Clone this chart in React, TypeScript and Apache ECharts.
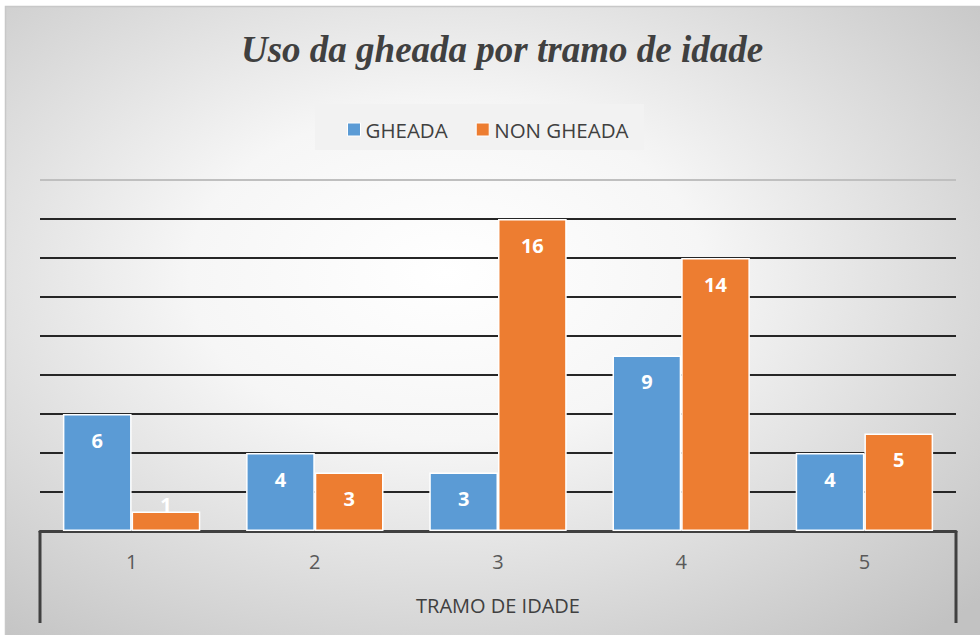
import React, { useEffect, useRef } from "react";
import * as echarts from "echarts";

const categories = ["1", "2", "3", "4", "5"];
const gheada = [6, 4, 3, 9, 4];
const nonGheada = [1, 3, 16, 14, 5];
const seriesNames = ["GHEADA", "NON GHEADA"];
const yMin = 0;
const yMax = 18;
const yInterval = 2;

const GRID = { left: 40, right: 24, top: 180, bottom: 104 };
const W = 980;
const H = 635;
const SANS = "'Open Sans', 'Noto Sans', sans-serif";

export default function App() {
  const ref = useRef<HTMLDivElement>(null);
  useEffect(() => {
    if (!ref.current) return;
    const chart = echarts.init(ref.current, undefined, { renderer: "svg" });
    const axisY = H - GRID.bottom;
    const nLines = (yMax - yMin) / yInterval + 1;
    const splitColors = Array.from({ length: nLines }, (_, i) =>
      i === nLines - 1 ? "#bfbfbf" : "#262626"
    );
    const labelStyle = {
      show: true,
      position: "insideTop",
      distance: 16,
      color: "#ffffff",
      fontWeight: "bold",
      fontSize: 20,
      fontFamily: SANS,
    };
    const mkData = (arr: number[]) =>
      arr.map((v) =>
        v <= 1
          ? { value: v, label: { position: "insideTop", distance: -17 } }
          : v
      );
    chart.setOption({
      animation: false,
      backgroundColor: "transparent",
      graphic: [
        {
          type: "rect",
          z: -10,
          shape: { x: 5.5, y: 6.5, width: W, height: H },
          style: {
            fill: {
              type: "radial",
              x: 0.45,
              y: 0.42,
              r: 0.75,
              colorStops: [
                { offset: 0, color: "#ffffff" },
                { offset: 0.35, color: "#f6f6f6" },
                { offset: 1, color: "#c2c2c2" },
              ],
            },
            stroke: "#c8c8c8",
            lineWidth: 1.5,
          },
          silent: true,
        },
        {
          type: "rect",
          shape: { x: 315, y: 104, width: 329, height: 46 },
          style: { fill: "#f2f2f2" },
          z: -5,
          silent: true,
        },
        {
          type: "line",
          shape: { x1: GRID.left, y1: axisY, x2: GRID.left, y2: 623 },
          style: { stroke: "#404040", lineWidth: 3 },
          z: 10,
        },
        {
          type: "line",
          shape: { x1: W - GRID.right, y1: axisY, x2: W - GRID.right, y2: 623 },
          style: { stroke: "#404040", lineWidth: 3 },
          z: 10,
        },
      ],
      title: {
        text: "Uso da gheada por tramo de idade",
        left: 236,
        top: 26,
        textStyle: {
          fontFamily: "'Liberation Serif', 'DejaVu Serif', serif",
          fontStyle: "italic",
          fontWeight: "bold",
          fontSize: 37,
          color: "#404040",
        },
      },
      legend: {
        data: seriesNames,
        top: 114,
        left: 342,
        icon: "rect",
        itemWidth: 13,
        itemHeight: 13,
        itemGap: 28,
        itemStyle: { borderColor: "#ffffff", borderWidth: 1 },
        textStyle: { fontFamily: SANS, fontSize: 20.5, color: "#404040" },
      },
      grid: { ...GRID, containLabel: false },
      xAxis: {
        type: "category",
        data: categories,
        name: "TRAMO DE IDADE",
        nameLocation: "middle",
        nameGap: 64,
        nameTextStyle: { fontFamily: SANS, fontSize: 20, color: "#404040" },
        axisLine: { show: true, lineStyle: { color: "#404040", width: 3 } },
        axisTick: { show: false },
        axisLabel: {
          margin: 20,
          fontFamily: SANS,
          fontSize: 20,
          color: "#595959",
        },
      },
      yAxis: {
        type: "value",
        min: yMin,
        max: yMax,
        interval: yInterval,
        axisLabel: { show: false },
        axisLine: { show: false },
        axisTick: { show: false },
        splitLine: { lineStyle: { color: splitColors, width: 2 } },
      },
      series: [
        {
          name: seriesNames[0],
          type: "bar",
          data: mkData(gheada),
          barGap: "0%",
          barCategoryGap: "25%",
          itemStyle: { color: "#5b9bd5", borderColor: "#ffffff", borderWidth: 1.5 },
          label: labelStyle,
        },
        {
          name: seriesNames[1],
          type: "bar",
          data: mkData(nonGheada),
          barGap: "0%",
          barCategoryGap: "25%",
          itemStyle: { color: "#ed7d31", borderColor: "#ffffff", borderWidth: 1.5 },
          label: labelStyle,
        },
      ],
    });
    return () => chart.dispose();
  }, []);
  return (
    <div
      ref={ref}
      style={{
        position: "fixed",
        left: 0,
        top: 0,
        width: W,
        height: H,
        background: "#ffffff",
      }}
    />
  );
}
